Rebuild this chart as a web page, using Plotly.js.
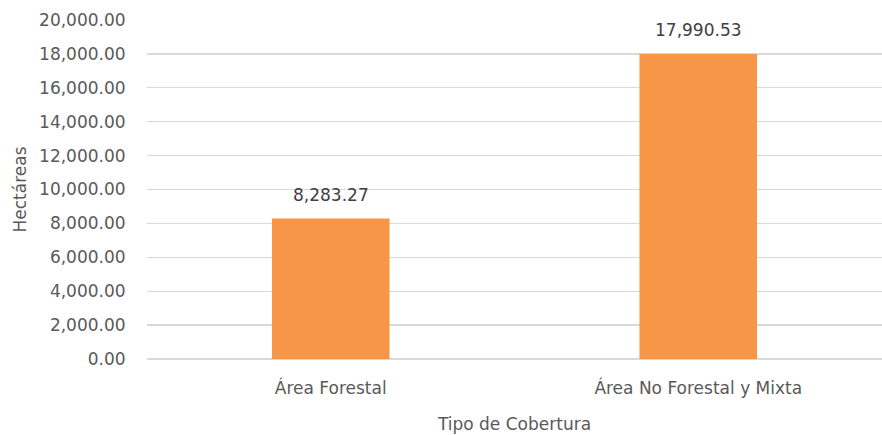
<!DOCTYPE html>
<html>
<head>
<meta charset="utf-8">
<script src="https://cdn.plot.ly/plotly-3.0.1.min.js"></script>
<style>html,body{margin:0;padding:0;background:#fff;}#chart{width:882px;height:435px;}</style>
</head>
<body>
<div id="chart"></div>
<script>
const categories = ["Área Forestal", "Área No Forestal y Mixta"];
const hectareas = [8283.27, 17990.53];
const yTickVals = [0, 2000, 4000, 6000, 8000, 10000, 12000, 14000, 16000, 18000, 20000];

const FONT = "DejaVu Sans";
const GREY = "#595959";

const trace = {
  type: "bar",
  x: categories,
  y: hectareas,
  marker: {color: "#F79646"},
  hoverinfo: "skip"
};

const annotations = categories.map((c, i) => ({
  x: c, y: hectareas[i], xref: "x", yref: "y",
  text: hectareas[i].toLocaleString("en-US", {minimumFractionDigits: 2, maximumFractionDigits: 2}),
  showarrow: false, yanchor: "bottom", yshift: 12,
  font: {family: FONT, size: 17, color: "#404040"}
}));

const layout = {
  width: 882, height: 435,
  margin: {l: 147, r: 0, t: 20, b: 76},
  paper_bgcolor: "#fff", plot_bgcolor: "#fff",
  bargap: 0.68,
  showlegend: false,
  font: {family: FONT, size: 17, color: GREY},
  xaxis: {
    type: "category",
    showgrid: false, showline: false, zeroline: false,
    ticks: "outside", ticklen: 14, tickcolor: "rgba(0,0,0,0)",
    tickfont: {family: FONT, size: 17, color: GREY},
    title: {text: "Tipo de Cobertura", font: {family: FONT, size: 17, color: GREY}, standoff: 20}
  },
  yaxis: {
    range: [0, 20000],
    tickvals: yTickVals,
    tickformat: ",.2f",
    showgrid: true, gridcolor: "#D9D9D9", gridwidth: 1.3,
    zeroline: true, zerolinecolor: "#D9D9D9", zerolinewidth: 1.3,
    showline: false,
    ticks: "outside", ticklen: 17, tickcolor: "rgba(0,0,0,0)",
    tickfont: {family: FONT, size: 17, color: GREY},
    title: {text: "Hectáreas", font: {family: FONT, size: 17, color: GREY}, standoff: 8}
  },
  annotations: annotations
};

Plotly.newPlot("chart", [trace], layout, {displayModeBar: false, staticPlot: true});
</script>
</body>
</html>
